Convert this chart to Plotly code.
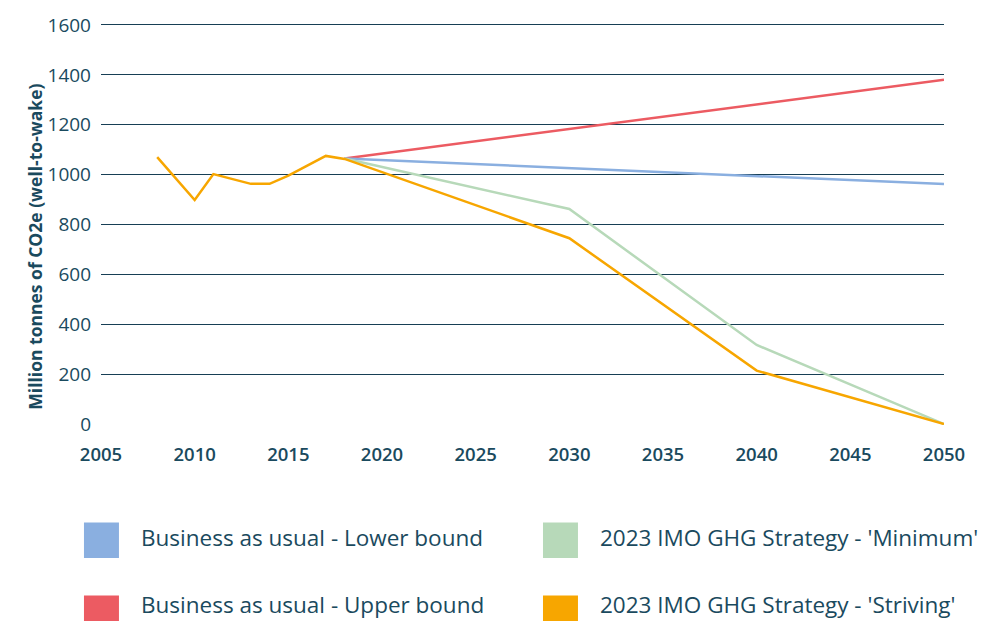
import plotly.graph_objects as go

hist_years = [2008, 2010, 2011, 2013, 2014, 2015, 2017, 2018]
hist_vals = [1070, 898, 1002, 963, 963, 996, 1075, 1063]

proj_years = [2018, 2030, 2040, 2050]
bau_lower = [1065, 1027, 995, 962]
bau_upper = [1065, 1183, 1282, 1380]
imo_min = [1065, 862, 317, 0]
imo_striving = [1063, 745, 214, 0]

names = ["Business as usual - Lower bound", "Business as usual - Upper bound",
         "2023 IMO GHG Strategy - 'Minimum'", "2023 IMO GHG Strategy - 'Striving'"]
colors = ["#8aafe0", "#ec5b62", "#b7d9b9", "#f7a600"]

x_ticks = list(range(2005, 2051, 5))
y_ticks = list(range(0, 1601, 200))

navy = "#1a4a5e"
FONT = "Open Sans"

fig = go.Figure()
fig.add_trace(go.Scatter(x=proj_years, y=bau_upper, mode="lines", name=names[1],
                         line=dict(color=colors[1], width=2.5)))
fig.add_trace(go.Scatter(x=proj_years, y=bau_lower, mode="lines", name=names[0],
                         line=dict(color=colors[0], width=2.5)))
fig.add_trace(go.Scatter(x=proj_years, y=imo_min, mode="lines", name=names[2],
                         line=dict(color=colors[2], width=2.5)))
fig.add_trace(go.Scatter(x=hist_years + proj_years[1:], y=hist_vals + imo_striving[1:],
                         mode="lines", name=names[3],
                         line=dict(color=colors[3], width=2.5)))

fig.update_layout(
    width=996, height=621,
    margin=dict(l=101, r=52, t=20, b=196),
    paper_bgcolor="white", plot_bgcolor="white",
    showlegend=False,
    font=dict(family=FONT, color=navy),
)
fig.update_xaxes(range=[2005, 2050], tickvals=x_ticks, showgrid=False, zeroline=False,
                 showline=False, ticks="", ticklabelstandoff=16,
                 tickfont=dict(size=18.5, color=navy, family=FONT, weight=600))
fig.update_yaxes(range=[-4, 1620], tickvals=y_ticks, showgrid=True, gridcolor="#173f55",
                 gridwidth=1.3, zeroline=False, showline=False, ticks="",
                 ticklabelstandoff=9,
                 tickfont=dict(size=19, color=navy, family=FONT))

fig.add_annotation(text="<b>Million tonnes of CO2e (well-to-wake)</b>", textangle=-90,
                   xref="paper", yref="paper", x=-0.095, y=0.44, showarrow=False,
                   font=dict(size=17.5, color=navy, family=FONT))

legend_pos = [(-0.0202, -0.2406), (-0.0202, -0.421), (0.5243, -0.2406), (0.5243, -0.421)]
for (lx, ly), nm, c in zip(legend_pos, names, colors):
    fig.add_shape(type="rect", xref="paper", yref="paper", x0=lx, x1=lx + 0.0415,
                  y0=ly, y1=ly - 0.0877, fillcolor=c, line=dict(width=0), layer="above")
    fig.add_annotation(text=nm, xref="paper", yref="paper", x=lx + 0.066,
                       y=ly - 0.0438 + 0.007 + (0.0145 if ly < -0.3 else 0), xanchor="left",
                       yanchor="middle", showarrow=False, borderpad=0,
                       font=dict(size=22.5, color=navy, family=FONT))

fig.write_html("out.html", config={"displayModeBar": False},
               post_script="document.body.style.margin='0';")
